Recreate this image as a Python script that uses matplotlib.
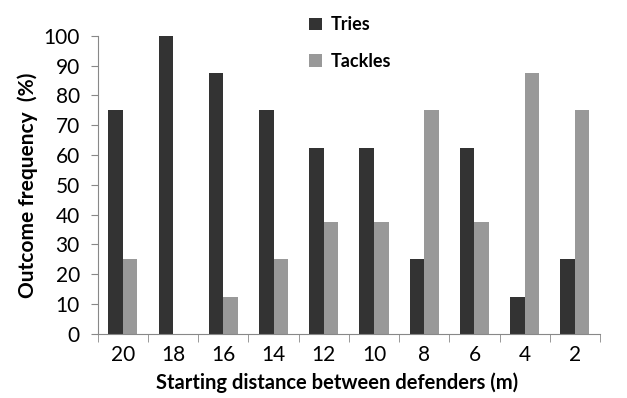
import numpy as np
import matplotlib.pyplot as plt

distances = ['20', '18', '16', '14', '12', '10', '8', '6', '4', '2']
tries = [75, 100, 87.5, 75, 62.5, 62.5, 25, 62.5, 12.5, 25]
tackles = [25, 0, 12.5, 25, 37.5, 37.5, 75, 37.5, 87.5, 75]

plt.rcParams['font.family'] = ['Lato', 'DejaVu Sans']

fig = plt.figure(figsize=(6.27, 3.98), dpi=100)
ax = fig.add_axes([0.156, 0.161, 0.801, 0.749])

x = np.arange(len(distances))
w = 0.29
ax.bar(x - w / 2, tries, w, color='#333333', label='Tries')
ax.bar(x + w / 2, tackles, w, color='#999999', label='Tackles')

ax.set_xlim(-0.5, len(distances) - 0.5)
ax.set_ylim(0, 100)
ax.set_yticks(range(0, 101, 10))
ax.set_xticks(x)
ax.set_xticklabels(distances)
ax.set_xticks(np.arange(-0.5, len(distances)), minor=True)
ax.tick_params(axis='x', which='major', length=0, labelsize=15, pad=8)
ax.tick_params(axis='x', which='minor', length=6, color='#888888')
ax.tick_params(axis='y', length=5, color='#888888', labelsize=15, pad=8)
for s in ['top', 'right']:
    ax.spines[s].set_visible(False)
for s in ['left', 'bottom']:
    ax.spines[s].set_color('#888888')

ax.set_xlabel('Starting distance between defenders (m)', fontsize=14.5, fontweight='bold')
ax.xaxis.set_label_coords(0.477, -0.13)
ax.set_ylabel('Outcome frequency  (%)', fontsize=15, fontweight='bold', labelpad=4)

fig.legend(loc='upper left', bbox_to_anchor=(0.467, 1.0), frameon=False,
           handlelength=0.7, handleheight=0.7, handletextpad=0.5,
           labelspacing=1.1, prop={'weight': 'bold', 'size': 13})

fig.savefig('out.png', dpi=100)
